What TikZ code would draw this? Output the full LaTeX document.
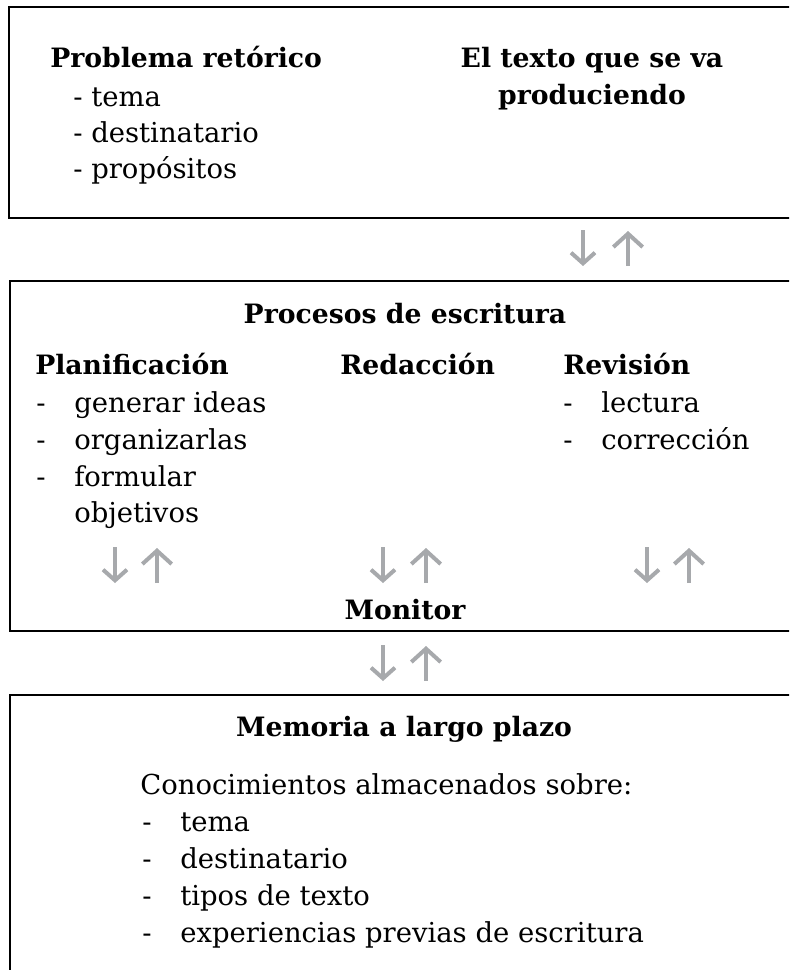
\documentclass[tikz,border=0pt]{standalone}
\usepackage{fontspec}
\setmainfont{DejaVu Serif}
\usetikzlibrary{arrows.meta}
\definecolor{arrowgray}{HTML}{A7A9AC}
\tikzset{
	boxline/.style={line width=2.2pt},
	head/.style={font=\fontsize{20}{27}\selectfont\bfseries, inner sep=0pt},
	txt/.style={font=\fontsize{20.6}{27}\selectfont, inner sep=0pt},
	arrdown/.style={arrowgray, line width=3pt, -{Straight Barb[length=8pt,width=18pt]}},
	arrup/.style={arrowgray, line width=3pt, -{Straight Barb[length=10pt,width=22pt]}}
}

\begin{document}
\begin{tikzpicture}[x=0.75pt, y=-0.75pt]

	\useasboundingbox (0, 0) rectangle (789, 970);
	\clip (0, 0) rectangle (789, 970);

	% boxes
	\draw [boxline] (800, 7) -| (9, 218) -- (800, 218);
	\draw [boxline] (800, 281) -| (10, 631) -- (800, 631);
	\draw [boxline] (800, 695) -| (10, 980);

	% problema retorico / texto
	\node [head, anchor=base west] (probl) at (50, 68) {Problema retórico};
	\node [txt, anchor=base west] (pr1) at (73, 107) {- tema};
	\node [txt, anchor=base west] (pr2) at (73, 143) {- destinatario};
	\node [txt, anchor=base west] (pr3) at (73, 178) {- propósitos};
	\node [head, anchor=base] (texto1) at (592, 68) {El texto que se va};
	\node [head, anchor=base] (texto2) at (592, 105) {produciendo};

	\draw [arrdown] (583, 230) coordinate (t1a) -- (583, 266) coordinate (t1b);
	\draw [arrup] (628, 266) coordinate (t2a) -- (628, 231) coordinate (t2b);

	% procesos de escritura
	\node [head, anchor=base] (proc) at (405, 323) {Procesos de escritura};
	\node [head, anchor=base west] (plan) at (35, 374) {Planificación};
	\node [head, anchor=base west] (redac) at (340, 374) {Redacción};
	\node [head, anchor=base west] (revis) at (563, 374) {Revisión};

	\node [txt, anchor=base west] (pd1) at (36, 412) {-};
	\node [txt, anchor=base west] (pd2) at (36, 449) {-};
	\node [txt, anchor=base west] (pd3) at (36, 486) {-};
	\node [txt, anchor=base west] (pl1) at (74, 412) {generar ideas};
	\node [txt, anchor=base west] (pl2) at (74, 449) {organizarlas};
	\node [txt, anchor=base west] (pl3) at (74, 486) {formular};
	\node [txt, anchor=base west] (pl4) at (74, 522) {objetivos};

	\node [txt, anchor=base west] (rd1) at (563, 412) {-};
	\node [txt, anchor=base west] (rd2) at (563, 449) {-};
	\node [txt, anchor=base west] (rv1) at (601, 412) {lectura};
	\node [txt, anchor=base west] (rv2) at (601, 449) {corrección};

	\draw [arrdown] (115, 547) coordinate (m1a) -- (115, 583) coordinate (m1b);
	\draw [arrup] (157, 583) coordinate (m2a) -- (157, 548) coordinate (m2b);
	\draw [arrdown] (383, 547) coordinate (m3a) -- (383, 583) coordinate (m3b);
	\draw [arrup] (426, 583) coordinate (m4a) -- (426, 548) coordinate (m4b);
	\draw [arrdown] (647, 547) coordinate (m5a) -- (647, 583) coordinate (m5b);
	\draw [arrup] (689, 583) coordinate (m6a) -- (689, 548) coordinate (m6b);

	\node [head, anchor=base] (monit) at (405, 619) {Monitor};

	\draw [arrdown] (383, 645) coordinate (b1a) -- (383, 681) coordinate (b1b);
	\draw [arrup] (426, 681) coordinate (b2a) -- (426, 646) coordinate (b2b);

	% memoria a largo plazo
	\node [head, anchor=base] (memo) at (404, 736) {Memoria a largo plazo};
	\node [txt, anchor=base west] (conoc) at (140, 794) {Conocimientos almacenados sobre:};
	\node [txt, anchor=base west] (md1) at (142, 831) {-};
	\node [txt, anchor=base west] (md2) at (142, 868) {-};
	\node [txt, anchor=base west] (md3) at (142, 905) {-};
	\node [txt, anchor=base west] (md4) at (142, 942) {-};
	\node [txt, anchor=base west] (me1) at (180, 831) {tema};
	\node [txt, anchor=base west] (me2) at (180, 868) {destinatario};
	\node [txt, anchor=base west] (me3) at (180, 905) {tipos de texto};
	\node [txt, anchor=base west] (me4) at (180, 942) {experiencias previas de escritura};

\end{tikzpicture}
\end{document}
